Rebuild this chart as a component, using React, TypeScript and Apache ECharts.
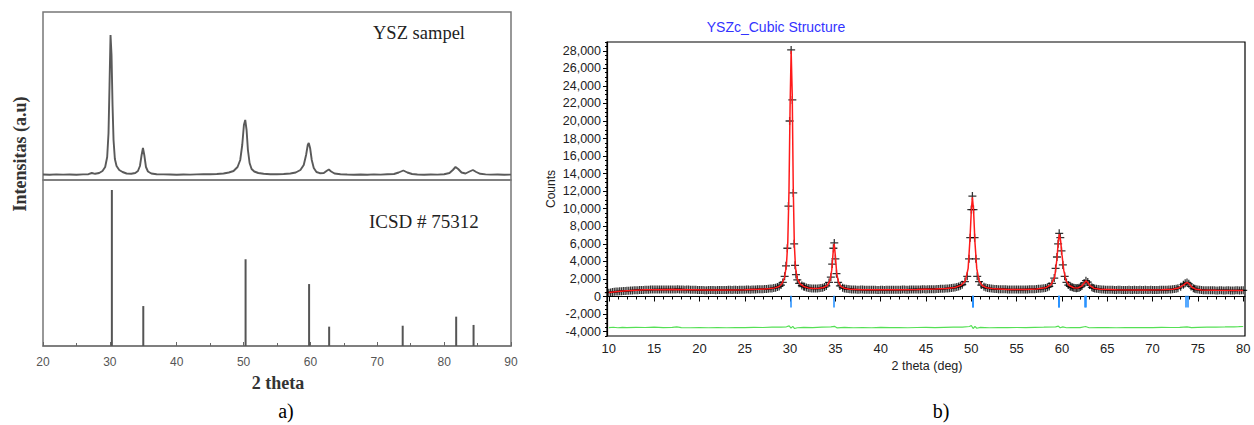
import React, { useEffect, useRef } from "react";
import * as echarts from "echarts";

// ---------- Panel a) ----------
const sampleCurve: [number, number][] = [
  [20, 0.5], [21, 0.3], [22, 0.6], [23, 0.4], [24, 0.5], [25, 0.3], [26, 0.6], [26.8, 0.8], [27.3, 2], [27.8, 1.2],
  [28.4, 2], [28.9, 4], [29.3, 8], [29.6, 18], [29.8, 42], [29.95, 90], [30.1, 140], [30.25, 120], [30.4, 70],
  [30.55, 35], [30.75, 16], [31, 9], [31.4, 5], [31.9, 3], [32.5, 1.5], [33.2, 1.2], [33.8, 2], [34.2, 4], [34.5, 9],
  [34.75, 20], [34.95, 27], [35.15, 20], [35.4, 8], [35.7, 3.5], [36.2, 1.5], [37, 0.8], [38, 0.6], [39, 0.5], [40, 0.3],
  [41, 0.5], [42, 0.4], [43, 0.6], [44, 0.8], [45, 0.7], [46, 1], [47, 1.5], [47.8, 2.5], [48.5, 4], [49.1, 8],
  [49.5, 15], [49.8, 30], [50.05, 50], [50.25, 55], [50.45, 45], [50.65, 25], [50.9, 12], [51.2, 6], [51.6, 3.5],
  [52.2, 2], [53, 1.2], [54, 0.8], [55, 0.8], [56, 1], [57, 1.5], [57.8, 2.5], [58.5, 5], [59, 10], [59.35, 20],
  [59.6, 30], [59.75, 32], [59.95, 27], [60.2, 15], [60.5, 7], [60.9, 3], [61.4, 1.8], [62, 2], [62.4, 4], [62.75, 5.5],
  [63.1, 3.5], [63.6, 1.5], [64.5, 0.8], [65.5, 0.5], [66.5, 0.3], [67.5, 0.5], [68.5, 0.3], [69.5, 0.6], [70.5, 0.4],
  [71.5, 0.7], [72.5, 1], [73.2, 2.5], [73.9, 4.5], [74.5, 2.5], [75.2, 1], [76, 0.5], [77, 0.3], [78, 0.5], [79, 0.4],
  [80, 0.8], [80.8, 2], [81.3, 5], [81.7, 8], [82.1, 6], [82.6, 2.5], [83.2, 1.5], [83.8, 3.5], [84.3, 5], [84.8, 3],
  [85.4, 1.2], [86.2, 0.6], [87, 0.4], [88, 0.5], [89, 0.3], [90, 0.4],
];

const refPositions = [30.3, 35.0, 50.3, 59.8, 62.8, 73.8, 81.8, 84.4];
const refIntensities = [100, 25.6, 55.6, 39.7, 12.4, 13, 18.8, 13.5];

// ---------- Panel b) ----------
const obsCounts: [number, number][] = [
  [10.0, 430], [10.4, 500], [10.8, 560], [11.2, 590], [11.6, 620], [12.0, 650], [12.4, 680], [12.8, 700], [13.2, 720],
  [13.6, 740], [14.0, 760], [14.4, 770], [14.8, 790], [15.2, 800], [15.6, 790], [16.0, 800], [16.4, 810], [16.8, 790],
  [17.2, 800], [17.6, 830], [18.0, 800], [18.4, 780], [18.8, 790], [19.2, 770], [19.6, 760], [20.0, 740], [20.4, 730],
  [20.8, 720], [21.2, 730], [21.6, 740], [22.0, 730], [22.4, 750], [22.8, 740], [23.2, 760], [23.6, 750], [24.0, 770],
  [24.4, 760], [24.8, 780], [25.2, 790], [25.6, 780], [26.0, 800], [26.4, 820], [26.8, 830], [27.2, 850], [27.6, 880],
  [28.0, 920], [28.4, 1000], [28.8, 1150], [29.0, 1300], [29.2, 1600], [29.4, 2300], [29.55, 3500], [29.7, 5500],
  [29.82, 10300], [29.95, 20000], [30.12, 28100], [30.25, 22400], [30.35, 11800], [30.45, 6000], [30.55, 3550],
  [30.65, 2500], [30.8, 1900], [31.0, 1500], [31.3, 1250], [31.6, 1100], [32.0, 980], [32.4, 920], [32.8, 900],
  [33.2, 930], [33.6, 1000], [34.0, 1200], [34.3, 1600], [34.5, 2200], [34.65, 3700], [34.78, 5500], [34.88, 6100],
  [35.0, 4300], [35.12, 2600], [35.3, 1600], [35.5, 1200], [35.8, 1000], [36.2, 880], [36.6, 830], [37.0, 800],
  [37.4, 780], [37.8, 790], [38.2, 770], [38.6, 760], [39.0, 770], [39.4, 760], [39.8, 750], [40.2, 760], [40.6, 770],
  [41.0, 760], [41.4, 780], [41.8, 770], [42.2, 780], [42.6, 790], [43.0, 780], [43.4, 800], [43.8, 790], [44.2, 810],
  [44.6, 820], [45.0, 810], [45.4, 830], [45.8, 840], [46.2, 850], [46.6, 870], [47.0, 890], [47.4, 920], [47.8, 960],
  [48.2, 1030], [48.6, 1150], [49.0, 1350], [49.3, 1700], [49.55, 2300], [49.75, 4300], [49.88, 6700], [50.0, 9900],
  [50.12, 11450], [50.24, 9900], [50.36, 6700], [50.5, 4300], [50.65, 2300], [50.85, 1700], [51.1, 1300], [51.4, 1100],
  [51.8, 960], [52.2, 900], [52.6, 860], [53.0, 840], [53.4, 830], [53.8, 820], [54.2, 800], [54.6, 790], [55.0, 800],
  [55.4, 790], [55.8, 800], [56.2, 810], [56.6, 820], [57.0, 840], [57.4, 870], [57.8, 900], [58.2, 980], [58.6, 1150],
  [58.9, 1500], [59.15, 2100], [59.3, 3200], [59.45, 4500], [59.58, 6000], [59.7, 7200], [59.82, 6700], [59.95, 5200],
  [60.1, 3600], [60.3, 2300], [60.5, 1600], [60.7, 1300], [61.0, 1100], [61.3, 1000], [61.6, 950], [61.9, 1000],
  [62.2, 1200], [62.45, 1550], [62.65, 1800], [62.85, 1650], [63.05, 1300], [63.3, 1050], [63.6, 920], [64.0, 850],
  [64.4, 800], [64.8, 780], [65.2, 770], [65.6, 760], [66.0, 750], [66.4, 760], [66.8, 750], [67.2, 740], [67.6, 750],
  [68.0, 760], [68.4, 740], [68.8, 750], [69.2, 760], [69.6, 750], [70.0, 740], [70.4, 750], [70.8, 760], [71.2, 770],
  [71.6, 780], [72.0, 800], [72.4, 850], [72.8, 950], [73.1, 1100], [73.4, 1350], [73.6, 1500], [73.8, 1600],
  [74.0, 1450], [74.25, 1150], [74.5, 950], [74.8, 820], [75.2, 760], [75.6, 720], [76.0, 700], [76.4, 710], [76.8, 700],
  [77.2, 690], [77.6, 700], [78.0, 690], [78.4, 700], [78.8, 680], [79.2, 700], [79.6, 690], [80.0, 700],
];

// additional observed background points between the ones above
const obsCountsExtra: [number, number][] = [
  [10.2, 470], [10.6, 530], [11.0, 570], [11.4, 610], [11.8, 640], [12.2, 670], [12.6, 690], [13.0, 700], [13.4, 740],
  [13.8, 750], [14.2, 760], [14.6, 790], [15.0, 790], [15.4, 810], [15.8, 790], [16.2, 800], [16.6, 790], [17.0, 810],
  [17.4, 790], [17.8, 810], [18.2, 790], [18.6, 790], [19.0, 770], [19.4, 770], [19.8, 740], [20.2, 730], [20.6, 710],
  [21.0, 730], [21.4, 740], [21.8, 720], [22.2, 740], [22.6, 750], [23.0, 740], [23.4, 760], [23.8, 760], [24.2, 750],
  [24.6, 770], [25.0, 780], [25.4, 800], [25.8, 790], [26.2, 810], [26.6, 820], [27.0, 840], [27.4, 860], [27.8, 900],
  [28.2, 960], [28.6, 1070], [31.5, 1150], [31.8, 1030], [32.2, 950], [32.6, 910], [33.0, 910], [33.4, 960],
  [33.8, 1080], [36.0, 920], [36.4, 850], [36.8, 810], [37.2, 790], [37.6, 780], [38.0, 790], [38.4, 770], [38.8, 760],
  [39.2, 770], [39.6, 750], [40.0, 760], [40.4, 750], [40.8, 770], [41.2, 770], [41.6, 760], [42.0, 780], [42.4, 790],
  [42.8, 780], [43.2, 790], [43.6, 800], [44.0, 800], [44.4, 810], [44.8, 820], [45.2, 820], [45.6, 830], [46.0, 840],
  [46.4, 860], [46.8, 880], [47.2, 900], [47.6, 940], [48.0, 990], [48.4, 1080], [48.8, 1240], [51.6, 1020],
  [52.0, 930], [52.4, 880], [52.8, 850], [53.2, 840], [53.6, 820], [54.0, 810], [54.4, 790], [54.8, 790], [55.2, 800],
  [55.6, 790], [56.0, 800], [56.4, 820], [56.8, 830], [57.2, 850], [57.6, 880], [58.0, 930], [58.4, 1050],
  [60.9, 1150], [61.15, 1050], [61.45, 970], [61.75, 960], [62.05, 1080], [63.45, 980], [63.8, 880], [64.2, 820],
  [64.6, 790], [65.0, 770], [65.4, 770], [65.8, 750], [66.2, 760], [66.6, 740], [67.0, 750], [67.4, 760], [67.8, 740],
  [68.2, 750], [68.6, 760], [69.0, 740], [69.4, 750], [69.8, 760], [70.2, 740], [70.6, 750], [71.0, 770], [71.4, 770],
  [71.8, 790], [72.2, 820], [72.6, 890], [74.65, 880], [75.0, 790], [75.4, 740], [75.8, 710], [76.2, 700], [76.6, 710],
  [77.0, 690], [77.4, 700], [77.8, 690], [78.2, 700], [78.6, 690], [79.0, 680], [79.4, 700], [79.8, 700],
];

const calcCounts: [number, number][] = [
  [10, 450], [11, 580], [12, 660], [13, 720], [14, 760], [15, 780], [17, 790], [19, 770], [21, 740], [23, 750],
  [25, 780], [26.5, 820], [27.5, 870], [28.3, 980], [28.8, 1150], [29.1, 1450], [29.4, 2200], [29.6, 3600],
  [29.75, 6200], [29.88, 12000], [30.0, 21500], [30.12, 28000], [30.24, 23000], [30.35, 12500], [30.47, 6000],
  [30.6, 3300], [30.8, 2000], [31.1, 1450], [31.5, 1150], [32.0, 980], [32.6, 910], [33.2, 930], [33.7, 1030],
  [34.1, 1250], [34.4, 1800], [34.6, 3000], [34.75, 5000], [34.87, 6000], [35.0, 4600], [35.15, 2600], [35.35, 1600],
  [35.6, 1150], [36.0, 930], [36.6, 830], [38, 780], [40, 760], [42, 775], [44, 800], [46, 850], [47.2, 910],
  [48.2, 1030], [48.9, 1300], [49.35, 1800], [49.65, 3200], [49.85, 6500], [50.0, 9800], [50.12, 11300], [50.25, 9800],
  [50.4, 6200], [50.6, 3200], [50.85, 1800], [51.2, 1250], [51.7, 990], [52.5, 870], [54, 810], [56, 805], [57.2, 860],
  [58.2, 990], [58.8, 1350], [59.2, 2200], [59.45, 4300], [59.6, 6300], [59.72, 7100], [59.85, 6400], [60.0, 4800],
  [60.2, 3000], [60.45, 1800], [60.8, 1250], [61.3, 1000], [61.8, 980], [62.2, 1200], [62.5, 1600], [62.68, 1780],
  [62.85, 1600], [63.1, 1250], [63.5, 950], [64.2, 820], [66, 760], [69, 750], [71, 770], [72.2, 830], [72.9, 980],
  [73.4, 1300], [73.7, 1550], [73.85, 1600], [74.05, 1420], [74.35, 1050], [74.8, 820], [75.4, 730], [77, 700], [80, 690],
];

const diffCounts: [number, number][] = [
  [10, -3550], [10.5, -3500], [11, -3560], [11.5, -3520], [12, -3540], [13, -3510], [14, -3530], [15, -3500],
  [16, -3540], [17, -3520], [17.5, -3460], [18, -3540], [19, -3560], [20, -3530], [21, -3560], [22, -3540],
  [23, -3560], [24, -3530], [25, -3550], [26, -3520], [27, -3530], [28, -3500], [29, -3480], [29.6, -3450],
  [29.9, -3350], [30.1, -3600], [30.3, -3400], [30.5, -3650], [30.8, -3560], [31.5, -3520], [32.5, -3540],
  [33.5, -3500], [34.5, -3470], [34.9, -3400], [35.2, -3580], [36, -3520], [37, -3560], [38, -3540], [39, -3560],
  [40, -3520], [41, -3550], [42, -3540], [43, -3560], [44, -3530], [45, -3520], [46, -3540], [47, -3520], [48, -3500],
  [49, -3480], [49.8, -3420], [50.0, -3300], [50.2, -3650], [50.4, -3400], [50.6, -3620], [51, -3520], [52, -3560],
  [53, -3540], [54, -3550], [55, -3530], [56, -3550], [57, -3520], [58, -3500], [59.3, -3460], [59.6, -3380],
  [59.8, -3560], [60.1, -3460], [60.5, -3560], [61, -3530], [62, -3540], [62.6, -3420], [63, -3560], [64, -3550],
  [65, -3540], [66, -3560], [67, -3540], [68, -3550], [69, -3530], [70, -3540], [71, -3520], [72, -3530], [73, -3520],
  [73.8, -3460], [74.3, -3540], [75, -3520], [76, -3500], [77, -3480], [78, -3470], [79, -3450], [79.5, -3440],
  [80, -3420],
];

const reflectionPositions = [30.1, 34.87, 50.12, 50.18, 59.63, 59.68, 62.48, 62.67, 73.7, 73.85];
const reflectionTop = 100;
const reflectionBottom = -1250;

const xLabelValues = [10, 15, 20, 25, 30, 35, 40, 45, 50, 55, 60, 65, 70, 75, 80];
const yLabelValues = [-4000, -2000, 0, 2000, 4000, 6000, 8000, 10000, 12000, 14000, 16000, 18000, 20000, 22000, 24000, 26000, 28000];

const xMinorTicks: number[] = [];
for (let v = 10; v <= 80; v += 1) xMinorTicks.push(v);
const yMinorTicks: number[] = [];
for (let v = -4500; v <= 29000; v += 500) yMinorTicks.push(v);

const plusSymbol = "path://M4.2,0H5.8V4.2H10V5.8H5.8V10H4.2V5.8H0V4.2H4.2Z";
const SERIF = "'Liberation Serif', 'Times New Roman', serif";
const SANS = "'Liberation Sans', Arial, sans-serif";

export default function App() {
  const ref = useRef<HTMLDivElement>(null);
  useEffect(() => {
    if (!ref.current) return;
    const chart = echarts.init(ref.current, undefined, { renderer: "svg" });
    const obsAll = [...obsCounts, ...obsCountsExtra].sort((a, b) => a[0] - b[0]);
    const option: any = {
      animation: false,
      backgroundColor: "#ffffff",
      grid: [
        { left: 43, top: 12, width: 468, height: 168, show: true, borderColor: "#777", borderWidth: 1.5, backgroundColor: "transparent" },
        { left: 43, top: 180, width: 468, height: 166, show: true, borderColor: "#777", borderWidth: 1.5, backgroundColor: "transparent" },
        { left: 607, top: 42, width: 638, height: 294, show: true, borderColor: "#000", borderWidth: 1.2, backgroundColor: "transparent" },
      ],
      xAxis: [
        { gridIndex: 0, type: "value", min: 20, max: 90, show: false },
        {
          gridIndex: 1, type: "value", min: 20, max: 90, interval: 10,
          axisLine: { lineStyle: { color: "#777", width: 1.5 } },
          axisTick: { inside: true, length: 4, lineStyle: { color: "#666" } },
          minorTick: { show: true, splitNumber: 2, length: 3, lineStyle: { color: "#666" } },
          axisLabel: { color: "#555", fontSize: 12, fontFamily: SANS, margin: 10 },
          splitLine: { show: false },
        },
        {
          gridIndex: 2, type: "value", min: 9.8, max: 80.2,
          axisLine: { show: true, lineStyle: { color: "#000", width: 1.2 } },
          axisTick: { show: true, customValues: xMinorTicks, length: 3, lineStyle: { color: "#000" } },
          axisLabel: { show: false },
          splitLine: { show: false },
        },
        {
          gridIndex: 2, type: "value", min: 9.8, max: 80.2, position: "bottom",
          axisLine: { show: false },
          axisTick: { show: true, customValues: xLabelValues, length: 5, lineStyle: { color: "#000" } },
          axisLabel: { customValues: xLabelValues, fontSize: 13, fontFamily: SANS, color: "#222", margin: 6 },
          splitLine: { show: false },
        },
      ],
      yAxis: [
        { gridIndex: 0, type: "value", min: -5, max: 163, show: false },
        { gridIndex: 1, type: "value", min: 0, max: 106.4, show: false },
        {
          gridIndex: 2, type: "value", min: -4500, max: 29000,
          axisLine: { show: true, lineStyle: { color: "#000", width: 1.2 } },
          axisTick: { show: true, customValues: yMinorTicks, length: 2, lineStyle: { color: "#000" } },
          axisLabel: { show: false },
          splitLine: { show: false },
        },
        {
          gridIndex: 2, type: "value", min: -4500, max: 29000, position: "left",
          axisLine: { show: false },
          axisTick: { show: true, customValues: yLabelValues, length: 4, lineStyle: { color: "#000" } },
          axisLabel: {
            customValues: yLabelValues, fontSize: 12.5, fontFamily: SANS, color: "#222", margin: 6,
            formatter: (v: number) => v.toLocaleString("en-US"),
          },
          splitLine: { show: false },
        },
      ],
      series: [
        {
          type: "line", xAxisIndex: 0, yAxisIndex: 0, data: sampleCurve, showSymbol: false, symbol: "none",
          lineStyle: { color: "#5a5a5a", width: 1.9 },
        },
        {
          type: "bar", xAxisIndex: 1, yAxisIndex: 1, barWidth: 2,
          data: refPositions.map((x, i) => [x, refIntensities[i]]),
          itemStyle: { color: "#555" },
        },
        {
          type: "scatter", xAxisIndex: 2, yAxisIndex: 2, data: obsAll, symbol: plusSymbol, symbolSize: 8,
          itemStyle: { color: "#000" }, z: 2,
        },
        {
          type: "line", xAxisIndex: 2, yAxisIndex: 2, data: calcCounts, showSymbol: false, symbol: "none",
          lineStyle: { color: "#ff1a1a", width: 1.5 }, z: 3,
          markLine: {
            silent: true, symbol: ["none", "none"], label: { show: false },
            lineStyle: { color: "#1e8cff", width: 1.5, type: "solid" },
            data: reflectionPositions.map((x) => [{ coord: [x, reflectionTop] }, { coord: [x, reflectionBottom] }]),
          },
        },
        {
          type: "line", xAxisIndex: 2, yAxisIndex: 2, data: diffCounts, showSymbol: false, symbol: "none",
          lineStyle: { color: "#55e055", width: 1.2 }, z: 2,
        },
      ],
      graphic: [
        { type: "text", left: 373, top: 23, style: { text: "YSZ sampel", fontSize: 18.5, fontFamily: SERIF, fill: "#222" } },
        { type: "text", left: 369, top: 212, style: { text: "ICSD # 75312", fontSize: 19, fontFamily: SERIF, fill: "#222" } },
        {
          type: "text", x: 20, y: 154, rotation: Math.PI / 2,
          style: { text: "Intensitas (a.u)", fontSize: 18, fontWeight: "bold", fontFamily: SERIF, fill: "#333", align: "center", verticalAlign: "middle" },
        },
        {
          type: "text", x: 278, y: 383,
          style: { text: "2 theta", fontSize: 18, fontWeight: "bold", fontFamily: SERIF, fill: "#333", align: "center", verticalAlign: "middle" },
        },
        {
          type: "text", x: 286, y: 411,
          style: { text: "a)", fontSize: 20, fontFamily: SERIF, fill: "#000", align: "center", verticalAlign: "middle" },
        },
        {
          type: "text", x: 776, y: 27,
          style: { text: "YSZc_Cubic Structure", fontSize: 14, fontFamily: SANS, fill: "#3333ff", align: "center", verticalAlign: "middle" },
        },
        {
          type: "text", x: 551, y: 189, rotation: Math.PI / 2,
          style: { text: "Counts", fontSize: 12, fontFamily: SANS, fill: "#222", align: "center", verticalAlign: "middle" },
        },
        {
          type: "text", x: 927, y: 366,
          style: { text: "2 theta (deg)", fontSize: 12.5, fontFamily: SANS, fill: "#222", align: "center", verticalAlign: "middle" },
        },
        {
          type: "text", x: 941, y: 411,
          style: { text: "b)", fontSize: 20, fontFamily: SERIF, fill: "#000", align: "center", verticalAlign: "middle" },
        },
      ],
    };
    chart.setOption(option);
    return () => chart.dispose();
  }, []);
  return (
    <div
      ref={ref}
      style={{ position: "absolute", left: 0, top: 0, width: 1254, height: 425, background: "#fff" }}
    />
  );
}
